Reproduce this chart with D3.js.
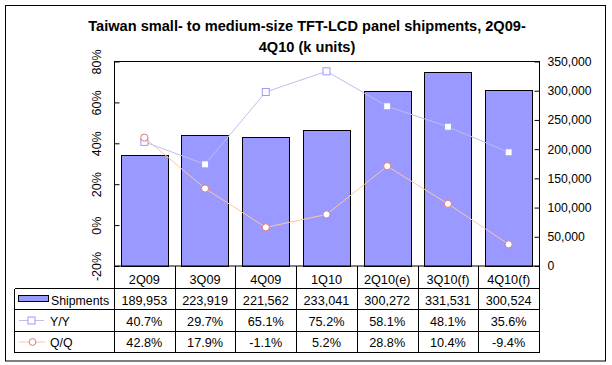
<!DOCTYPE html>
<html><head><meta charset="utf-8">
<script src="https://cdn.jsdelivr.net/npm/d3@7/dist/d3.min.js"></script>
<style>
body{margin:0;background:#fff;}
text{font-family:Arial,"Liberation Sans",sans-serif;fill:#000;}
</style></head>
<body>
<svg id="c" width="612" height="365"></svg>
<script>
const categories = ["2Q09","3Q09","4Q09","1Q10","2Q10(e)","3Q10(f)","4Q10(f)"];
const shipments = [189953,223919,221562,233041,300272,331531,300524];
const yoy = [40.7,29.7,65.1,75.2,58.1,48.1,35.6];
const qoq = [42.8,17.9,-1.1,5.2,28.8,10.4,-9.4];
const leftTicks = [-20,0,20,40,60,80];
const rightTicks = [0,50000,100000,150000,200000,250000,300000,350000];
const seriesNames = ["Shipments","Y/Y","Q/Q"];
const titleLines = ["Taiwan small- to medium-size TFT-LCD panel shipments, 2Q09-","4Q10 (k units)"];

const svg = d3.select("#c");
const L = 114, R = 539, T = 61.5, B = 266;
const barColor = "#9999FF", yoyLine = "#BDBDF2", yoyMark = "#9999FF", qoqLine = "#FFC79E", qoqMark = "#E07878";
const pct = v => d3.format(".1f")(v).replace("\u2212","-") + "%";

// outer border
svg.append("rect").attr("x",5.5).attr("y",5.5).attr("width",600).attr("height",355.5)
  .attr("fill","#fff").attr("stroke","#000");

// title
svg.append("g").selectAll("text").data(titleLines).join("text")
  .attr("x",307).attr("y",(d,i)=>31+i*20.5).attr("text-anchor","middle")
  .style("font-weight","bold").style("font-size","14.6px").text(d=>d);

const x = d3.scaleBand().domain(categories).range([L,R]).paddingInner(0.22).paddingOuter(0.11);
const xt = d3.scaleBand().domain(categories).range([L,R]).padding(0);
const yL = d3.scaleLinear().domain([-20,80]).range([B,T]);
const yR = d3.scaleLinear().domain([0,350000]).range([B,T]);

// bars
svg.append("g").selectAll("rect").data(shipments).join("rect")
  .attr("x",(d,i)=>Math.round(x(categories[i]))+0.5)
  .attr("y",d=>Math.round(yR(d))+0.5)
  .attr("width",Math.round(x.bandwidth()))
  .attr("height",d=>Math.round(B-yR(d)))
  .attr("fill",barColor).attr("stroke","#000");

// plot border
svg.append("rect").attr("x",L+0.5).attr("y",T).attr("width",R-L).attr("height",B-T)
  .attr("fill","none").attr("stroke","#000");

// left axis
const gl = svg.append("g").attr("transform",`translate(${L+0.5},0)`)
  .call(d3.axisLeft(yL).tickValues(leftTicks).tickSize(-5).tickFormat(d=>d+"%"));
gl.select(".domain").remove();
gl.selectAll("line").attr("stroke","#000");
gl.selectAll("text").attr("x",null).attr("dy",null).attr("text-anchor","middle")
  .attr("transform",d=>`translate(${96-(L+0.5)},0) rotate(-90)`).attr("y",4.5)
  .style("font-size","12.5px").style("font-family","Arial, 'Liberation Sans'");

// right axis
const gr = svg.append("g").attr("transform",`translate(${R+0.5},0)`)
  .call(d3.axisRight(yR).tickValues(rightTicks).tickSize(-5).tickPadding(8).tickFormat(d3.format(",")));
gr.select(".domain").remove();
gr.selectAll("line").attr("stroke","#000");
gr.selectAll("text").style("font-size","12.2px").style("font-family","Arial, 'Liberation Sans'");

// lines
const cx = c => x(c)+x.bandwidth()/2;
const lineL = d3.line().x((d,i)=>cx(categories[i])).y(d=>yL(d));
svg.append("path").attr("d",lineL(yoy)).attr("fill","none").attr("stroke",yoyLine).attr("stroke-width",1);
svg.append("path").attr("d",lineL(qoq)).attr("fill","none").attr("stroke",qoqLine).attr("stroke-width",1);
svg.append("g").selectAll("rect").data(yoy).join("rect")
  .attr("x",(d,i)=>cx(categories[i])-3.5).attr("y",d=>yL(d)-3.5).attr("width",7).attr("height",7)
  .attr("fill","#fff").attr("stroke",yoyMark);
svg.append("g").selectAll("circle").data(qoq).join("circle")
  .attr("cx",(d,i)=>cx(categories[i])).attr("cy",d=>yL(d)).attr("r",3.6)
  .attr("fill","#fff").attr("stroke",qoqMark);

// data table
const tl = svg.append("g").attr("stroke","#000").attr("shape-rendering","crispEdges");
[288.5,309.5,331.5,352.5].forEach(yy=>{
  tl.append("line").attr("x1",14.5).attr("x2",R+0.5).attr("y1",yy).attr("y2",yy);
});
tl.append("line").attr("x1",14.5).attr("x2",14.5).attr("y1",288.5).attr("y2",352.5);
tl.selectAll(".v").data(categories.concat(["_end"])).join("line")
  .attr("x1",(d,i)=>Math.round(L+i*xt.step())+0.5).attr("x2",(d,i)=>Math.round(L+i*xt.step())+0.5)
  .attr("y1",B).attr("y2",352.5);

const fs = "12.7px";
svg.append("g").selectAll("text").data(categories).join("text")
  .attr("x",c=>xt(c)+xt.step()/2).attr("y",284).attr("text-anchor","middle").style("font-size",fs).text(c=>c);
svg.append("g").selectAll("text").data(shipments).join("text")
  .attr("x",(d,i)=>xt(categories[i])+xt.step()/2).attr("y",305).attr("text-anchor","middle").style("font-size",fs).text(d3.format(","));
svg.append("g").selectAll("text").data(yoy).join("text")
  .attr("x",(d,i)=>xt(categories[i])+xt.step()/2).attr("y",326).attr("text-anchor","middle").style("font-size",fs).text(pct);
svg.append("g").selectAll("text").data(qoq).join("text")
  .attr("x",(d,i)=>xt(categories[i])+xt.step()/2).attr("y",347).attr("text-anchor","middle").style("font-size",fs).text(pct);

// legend keys
svg.append("rect").attr("x",18.5).attr("y",295.5).attr("width",30).attr("height",6).attr("fill",barColor).attr("stroke","#000");
svg.append("line").attr("x1",19).attr("x2",44).attr("y1",320.5).attr("y2",320.5).attr("stroke",yoyLine);
svg.append("rect").attr("x",28).attr("y",317).attr("width",7).attr("height",7).attr("fill","#fff").attr("stroke",yoyMark);
svg.append("line").attr("x1",19).attr("x2",45).attr("y1",342).attr("y2",342).attr("stroke",qoqLine);
svg.append("circle").attr("cx",32.5).attr("cy",342).attr("r",3.4).attr("fill","#fff").attr("stroke",qoqMark);
svg.append("g").selectAll("text").data(seriesNames).join("text")
  .attr("x",(d,i)=>i===0?51:50).attr("y",(d,i)=>305+i*21).style("font-size","12.3px").text(d=>d);
</script>
</body></html>
